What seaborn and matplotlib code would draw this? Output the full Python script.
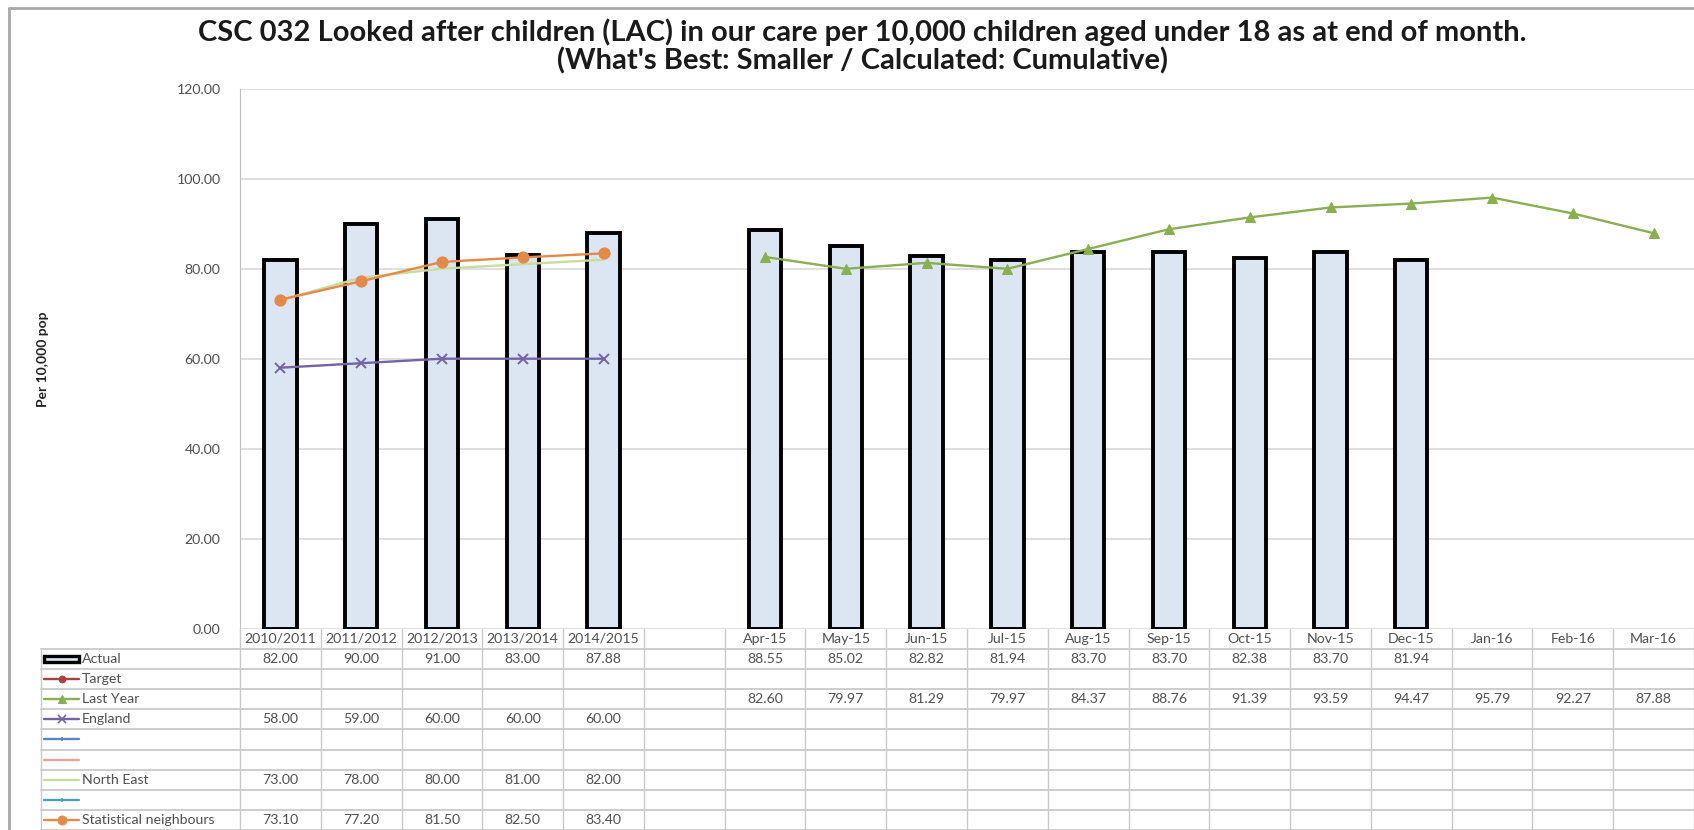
import numpy as np
import pandas as pd
import matplotlib
matplotlib.use("Agg")
import matplotlib.pyplot as plt
from matplotlib.lines import Line2D
from matplotlib.patches import Rectangle
import seaborn as sns

# ---- data -----------------------------------------------------------------
nan = np.nan
categories = ["2010/2011", "2011/2012", "2012/2013", "2013/2014", "2014/2015", "",
              "Apr-15", "May-15", "Jun-15", "Jul-15", "Aug-15", "Sep-15",
              "Oct-15", "Nov-15", "Dec-15", "Jan-16", "Feb-16", "Mar-16"]
actual = [82.00, 90.00, 91.00, 83.00, 87.88, nan,
          88.55, 85.02, 82.82, 81.94, 83.70, 83.70, 82.38, 83.70, 81.94, nan, nan, nan]
target = [nan] * 18
last_year = [nan] * 6 + [82.60, 79.97, 81.29, 79.97, 84.37, 88.76,
                         91.39, 93.59, 94.47, 95.79, 92.27, 87.88]
england = [58.00, 59.00, 60.00, 60.00, 60.00] + [nan] * 13
north_east = [73.00, 78.00, 80.00, 81.00, 82.00] + [nan] * 13
stat_neighbours = [73.10, 77.20, 81.50, 82.50, 83.40] + [nan] * 13
empty = [nan] * 18

title_1 = "CSC 032 Looked after children (LAC) in our care per 10,000 children aged under 18 as at end of month."
title_2 = "(What's Best: Smaller / Calculated: Cumulative)"
y_label = "Per 10,000 pop"
y_ticks = [0, 20, 40, 60, 80, 100, 120]

# ---- styling ----------------------------------------------------------------
sns.set_style("white")
plt.rcParams["font.family"] = ["Lato", "DejaVu Sans"]

BAR_FILL = "#DCE6F2"
GRID = "#D9D9D9"
TABLE_LINE = "#C9C9C9"
TEXT = "#505050"
TABLE_FS = 10.2

# table rows: label, values, colour, marker, marker size
rows = [
    ("Actual", actual, None, None, 0),
    ("Target", target, "#A9423F", "o", 6),
    ("Last Year", last_year, "#8AAE52", "^", 7),
    ("England", england, "#7464A4", "x", 7),
    ("", empty, "#5B86C0", "+", 4),
    ("", empty, "#E3A3A1", None, 0),
    ("North East", north_east, "#C9DC9F", None, 0),
    ("", empty, "#4F9FB8", "+", 4),
    ("Statistical neighbours", stat_neighbours, "#E38A4B", "o", 8),
]

W, H = 1694, 830
fig = plt.figure(figsize=(W / 100, H / 100), dpi=100)
fig.patch.set_facecolor("white")


def fx(px):
    return px / W


def fy(py):
    return 1 - py / H


plot_l, plot_r, plot_t, plot_b = 240, 1694, 88.6, 628.8
ax = fig.add_axes([fx(plot_l), fy(plot_b), fx(plot_r - plot_l), (plot_b - plot_t) / H])

n = len(categories)
pos = np.arange(n)

# bars
df = pd.DataFrame({"period": categories, "actual": actual})
sns.barplot(data=df, x="period", y="actual", order=categories, color=BAR_FILL,
            saturation=1, edgecolor="black", linewidth=2.8, width=0.4,
            errorbar=None, ax=ax)

# lines
for label, values, color, marker, ms in rows[1:]:
    s = pd.Series(values, index=pos).dropna()
    if s.empty:
        continue
    kw = dict(color=color, linewidth=1.7, ax=ax)
    if marker:
        kw.update(marker=marker, markersize=ms, markeredgecolor=color,
                  markeredgewidth=1.4 if marker in ("x", "+") else 0.8)
    sns.lineplot(x=s.index.values, y=s.values, **kw)

ax.set_xlim(-0.5, n - 0.5)
ax.set_ylim(0, 120)
ax.set_yticks(y_ticks)
ax.set_yticklabels([f"{v:.2f}" for v in y_ticks])
ax.set_xticks([])
ax.set_xlabel("")
ax.set_ylabel("")
ax.grid(axis="y", color=GRID, linewidth=1.2)
ax.set_axisbelow(True)
for side in ("top", "right", "bottom"):
    ax.spines[side].set_visible(False)
ax.spines["left"].set_color("#BFBFBF")
ax.tick_params(axis="y", length=0, pad=14, labelsize=10.2, labelcolor=TEXT)

# ---- data table underneath ----------------------------------------------------
tab_l = 41
col_w = (plot_r - plot_l) / n
x_left = -0.5 - (plot_l - tab_l) / col_w
tax = fig.add_axes([fx(tab_l), 0, fx(plot_r - tab_l), (H - plot_b) / H])
tax.set_xlim(x_left, n - 0.5)
tax.set_ylim(len(rows), -1)
tax.axis("off")

for r in range(len(rows) + 1):
    tax.plot([x_left, n - 0.5], [r, r], color=TABLE_LINE, lw=1.3, clip_on=False)
for k in range(n + 1):
    tax.plot([k - 0.5, k - 0.5], [-1, len(rows)], color=TABLE_LINE, lw=1, clip_on=False)
tax.plot([x_left, x_left], [0, len(rows)], color=TABLE_LINE, lw=1, clip_on=False)

for i, cat in enumerate(categories):
    tax.text(i, -0.5, cat, ha="center", va="center", fontsize=TABLE_FS, color=TEXT)

key_x0 = x_left + 3 / col_w
key_x1 = x_left + 38 / col_w
for r, (label, values, color, marker, ms) in enumerate(rows):
    yc = r + 0.5
    for i, v in enumerate(values):
        if not np.isnan(v):
            tax.text(i, yc, f"{v:.2f}", ha="center", va="center",
                     fontsize=TABLE_FS, color=TEXT)
    if color is None:
        tax.add_patch(Rectangle((key_x0, yc - 0.17), key_x1 - key_x0, 0.34,
                                facecolor=BAR_FILL, edgecolor="black", lw=2.4))
    else:
        tax.plot([key_x0, key_x1], [yc, yc], color=color, lw=1.7)
        if marker:
            tax.plot([(key_x0 + key_x1) / 2], [yc], marker=marker, color=color,
                     markersize=ms * 0.8, markeredgecolor=color,
                     markeredgewidth=1.2 if marker in ("x", "+") else 0.8)
    tax.text(key_x1 + 3 / col_w, yc, label, ha="left", va="center",
             fontsize=TABLE_FS, color=TEXT)

# ---- titles and frame -----------------------------------------------------------
fig.text(fx(862), fy(32), title_1, ha="center", va="center",
         fontsize=21, fontweight="bold", color="#1A1A1A")
fig.text(fx(862), fy(61), title_2, ha="center", va="center",
         fontsize=21, fontweight="bold", color="#1A1A1A")
fig.text(fx(43), fy(359), y_label, rotation=90, ha="center", va="center",
         fontsize=10, fontweight="bold", color="#222222")

fig.add_artist(Line2D([fx(9), 1], [fy(8), fy(8)], color="#A8A8A8", lw=2))
fig.add_artist(Line2D([fx(9), fx(9)], [fy(8), 0], color="#A8A8A8", lw=2))

fig.savefig("out.png", dpi=100, facecolor="white")
